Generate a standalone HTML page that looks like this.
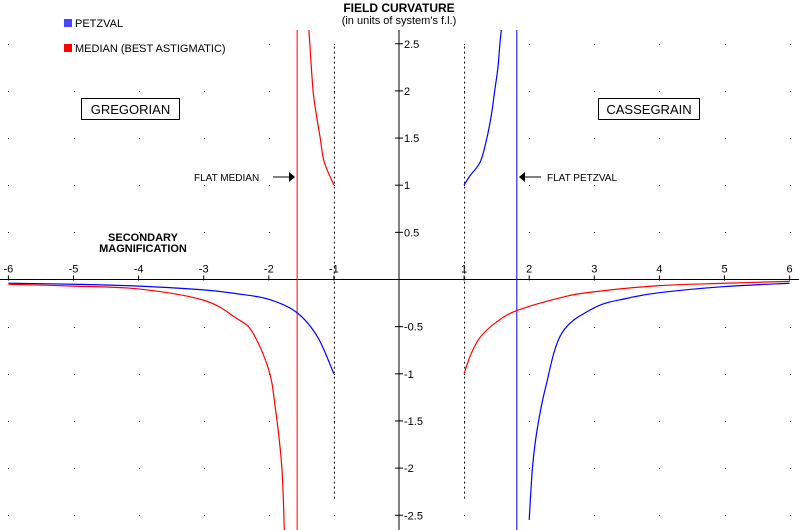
<!DOCTYPE html>
<html><head><meta charset="utf-8"><style>
body{margin:0;background:#fff;}
svg{display:block;font-family:"Liberation Sans",sans-serif;}
</style></head><body>
<svg id="chart" width="799" height="530" viewBox="0 0 799 530">
<defs><clipPath id="plot"><rect x="0" y="30" width="799" height="500"/></clipPath></defs>
<g id="grid"></g>
<g id="axes"></g>
<g id="series" clip-path="url(#plot)"></g>
<text x="399" y="12" text-anchor="middle" font-size="12" font-weight="bold">FIELD CURVATURE</text>
<text x="399" y="24" text-anchor="middle" font-size="11">(in units of system's f.l.)</text>
<rect x="64" y="19" width="8" height="8" fill="#4646ff"/>
<text x="75" y="27" font-size="11">PETZVAL</text>
<rect x="64" y="44" width="8" height="8" fill="#ff0000"/>
<text x="75" y="52" font-size="11">MEDIAN (BEST ASTIGMATIC)</text>
<rect x="81.5" y="98.5" width="98" height="21" fill="none" stroke="#000"/>
<text x="130.5" y="114" text-anchor="middle" font-size="13">GREGORIAN</text>
<rect x="598.5" y="98.5" width="101" height="21" fill="none" stroke="#000"/>
<text x="649" y="114" text-anchor="middle" font-size="13">CASSEGRAIN</text>
<text x="143" y="241" text-anchor="middle" font-size="11" font-weight="bold">SECONDARY</text>
<text x="143" y="252" text-anchor="middle" font-size="11" font-weight="bold">MAGNIFICATION</text>
<g>
<text x="194" y="181" font-size="10">FLAT MEDIAN</text>
<line x1="273" y1="177" x2="289" y2="177" stroke="#000"/>
<polygon points="289,172 295,177 289,182" fill="#000"/>
</g>
<g>
<text x="547" y="181" font-size="10">FLAT PETZVAL</text>
<line x1="525" y1="177" x2="541" y2="177" stroke="#000"/>
<polygon points="525,172 519,177 525,182" fill="#000"/>
</g>
</svg>
<script>
// data
const xTicks = [-6,-5,-4,-3,-2,-1,1,2,3,4,5,6];
const yTicks = [-2.5,-2,-1.5,-1,-0.5,0.5,1,1.5,2,2.5];
const yTickLabels = ["-2.5","-2","-1.5","-1","-0.5","0.5","1","1.5","2","2.5"];
const petzvalRightM = [2.0,2.05,2.12,2.25,2.5,3,3.5,4,5,6];
const petzvalRightV = [-2.55,-2.0,-1.6,-1.15,-0.57,-0.30,-0.20,-0.14,-0.075,-0.04];
const petzvalLeftM = [-6,-5,-4,-3,-2.5,-2,-1.57,-1.25,-1];
const petzvalLeftV = [-0.04,-0.05,-0.07,-0.11,-0.15,-0.21,-0.35,-0.61,-1];
const petzvalUpperM = [1,1.09,1.25,1.35,1.42,1.47,1.52,1.55,1.58];
const petzvalUpperV = [1,1.1,1.25,1.5,1.75,2,2.25,2.5,2.7];
const medianRightM = [1,1.1,1.25,1.5,1.81,2.5,3,4,5,6];
const medianRightV = [-1,-0.8,-0.61,-0.45,-0.33,-0.19,-0.13,-0.065,-0.04,-0.02];
const medianLeftM = [-6,-5,-4,-3,-2.5,-2.25,-2,-1.9,-1.8,-1.76];
const medianLeftV = [-0.05,-0.07,-0.10,-0.22,-0.41,-0.56,-0.96,-1.36,-1.99,-2.7];
const medianUpperM = [-1,-1.15,-1.21,-1.27,-1.32,-1.37,-1.39];
const medianUpperV = [1,1.25,1.5,1.75,2,2.5,2.7];
const flatMedianM = -1.565;
const flatPetzvalM = 1.81;

const X0=399, XS=65.1, Y0=279.5, YS=94.3;
const sx = m => X0 + m*XS;
const sy = v => Y0 - v*YS;
const NS="http://www.w3.org/2000/svg";
function mk(tag, parent, attrs){const e=document.createElementNS(NS,tag);for(const k in attrs)e.setAttribute(k,attrs[k]);parent.appendChild(e);return e;}
const grid=document.getElementById('grid'), axes=document.getElementById('axes'), series=document.getElementById('series');

// grid dots
for(let m=-6;m<=6;m++){ if(m===0) continue;
  for(let v=-2.5;v<=2.5;v+=0.5){ if(v===0) continue;
    const d=mk('rect',grid,{x:Math.round(sx(m)),y:Math.round(sy(v)),width:1,height:1,fill:'#000'});
    
    
  }}
// axes
const xa=mk('line',axes,{x1:0,y1:Y0,x2:799,y2:Y0,stroke:'#000'});


const ya=mk('line',axes,{x1:X0,y1:30,x2:X0,y2:530,stroke:'#000'});


xTicks.forEach(m=>{
  const t=mk('line',axes,{x1:sx(m),y1:Y0-4,x2:sx(m),y2:Y0+1,stroke:'#000'});
  
  
  const l=mk('text',axes,{x:sx(m),y:Y0-7,'font-size':11,'text-anchor':'middle'});
  l.textContent=String(m);
  
  
});
yTicks.forEach((v,i)=>{
  const t=mk('line',axes,{x1:X0-4,y1:sy(v),x2:X0+4,y2:sy(v),stroke:'#000'});
  
  
  const l=mk('text',axes,{x:X0+5,y:sy(v)+4,'font-size':11});
  l.textContent=yTickLabels[i];
  
  
});
// dotted verticals at +-1
[-1,1].forEach(m=>{
  const d=mk('line',axes,{x1:sx(m)+0.5,y1:sy(2.47),x2:sx(m)+0.5,y2:sy(-2.33),stroke:'#000','stroke-dasharray':'2,3'});
  
  
});
// asymptotes
const fm=mk('line',series,{x1:sx(flatMedianM),y1:30,x2:sx(flatMedianM),y2:530,stroke:'#ff0000'});


const fp=mk('line',series,{x1:sx(flatPetzvalM),y1:30,x2:sx(flatPetzvalM),y2:530,stroke:'#0000ff'});


// curves (catmull-rom)
function path(ms,vs){
  const p=ms.map((m,i)=>[sx(m),sy(vs[i])]);
  let d='M'+p[0][0]+','+p[0][1];
  for(let i=0;i<p.length-1;i++){
    const a=p[i-1]||p[i], b=p[i], c=p[i+1], e=p[i+2]||c;
    d+=' C'+(b[0]+(c[0]-a[0])/6)+','+(b[1]+(c[1]-a[1])/6)+' '+(c[0]-(e[0]-b[0])/6)+','+(c[1]-(e[1]-b[1])/6)+' '+c[0]+','+c[1];
  }
  return d;
}
[[petzvalRightM,petzvalRightV,'#0000ff','petzval-cassegrain-lower'],
 [petzvalLeftM,petzvalLeftV,'#0000ff','petzval-gregorian'],
 [petzvalUpperM,petzvalUpperV,'#0000ff','petzval-cassegrain-upper'],
 [medianRightM,medianRightV,'#ff0000','median-cassegrain'],
 [medianLeftM,medianLeftV,'#ff0000','median-gregorian-lower'],
 [medianUpperM,medianUpperV,'#ff0000','median-gregorian-upper']].forEach(s=>{
  const e=mk('path',series,{d:path(s[0],s[1]),fill:'none',stroke:s[2],'stroke-width':1.2});
  
  
});
</script>
</body></html>
